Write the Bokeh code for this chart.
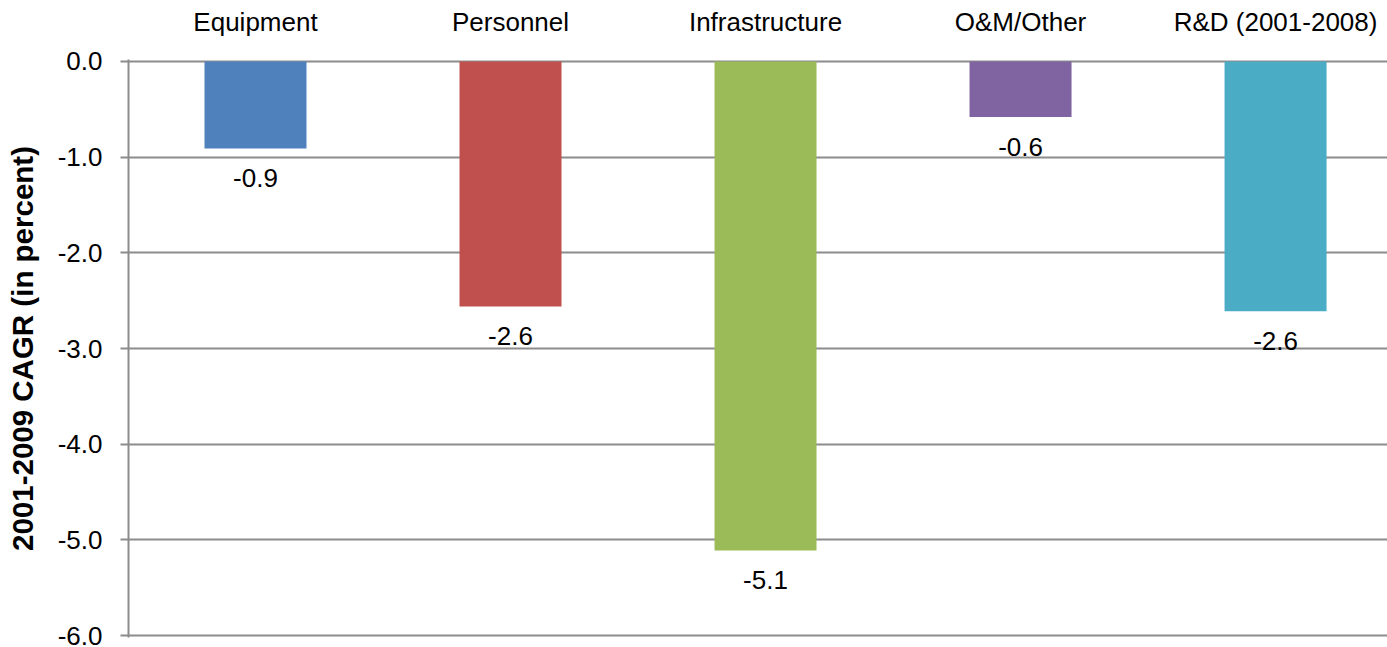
from bokeh.plotting import figure
from bokeh.models import Range1d, FixedTicker, ColumnDataSource
from bokeh.embed import file_html
from bokeh.resources import INLINE
from bokeh.core.properties import value

categories = ["Equipment", "Personnel", "Infrastructure", "O&M/Other", "R&D (2001-2008)"]
cagr = [-0.91, -2.56, -5.11, -0.58, -2.61]
colors = ["#4F81BD", "#C0504D", "#9BBB59", "#8064A2", "#4BACC6"]
y_ticks = [0, -1, -2, -3, -4, -5, -6]

xs = list(range(1, len(categories) + 1))
labels = ["%.1f" % v for v in cagr]
src = ColumnDataSource(dict(x=xs, top=[0] * len(xs), bottom=cagr, color=colors, label=labels))

FONT = "Liberation Sans"
GRID = "#8c8c8c"
FS = "26px"

p = figure(width=1387, height=647, output_backend="svg", toolbar_location=None,
           x_range=Range1d(0.502, 5.439), y_range=Range1d(-6.02, 0.02),
           x_axis_location="above", min_border_left=128, min_border_right=0,
           min_border_top=59, min_border_bottom=10)
p.outline_line_color = None
p.background_fill_color = "white"
p.border_fill_color = "white"

p.vbar(x="x", width=0.4, top="top", bottom="bottom", fill_color="color", line_color=None, source=src)
p.text(x="x", y="bottom", text="label", source=src, text_align="center", text_baseline="middle",
       y_offset=30, text_font=value(FONT), text_font_size=FS, text_color="black")

xa = p.xaxis[0]
xa.ticker = FixedTicker(ticks=xs)
xa.major_label_overrides = {x: c for x, c in zip(xs, categories)}
xa.axis_line_color = None
xa.major_tick_line_color = None
xa.major_tick_out = 0
xa.major_tick_in = 0
xa.minor_tick_line_color = None
xa.minor_tick_out = 0
xa.major_label_standoff = 23
xa.major_label_text_font = FONT
xa.major_label_text_font_size = FS
xa.major_label_text_color = "black"

ya = p.yaxis[0]
ya.ticker = FixedTicker(ticks=y_ticks)
ya.major_label_overrides = {t: "%.1f" % t for t in y_ticks}
ya.axis_line_color = GRID
ya.axis_line_width = 2
ya.major_tick_line_color = GRID
ya.major_tick_line_width = 2
ya.major_tick_out = 8
ya.major_tick_in = 0
ya.minor_tick_line_color = None
ya.major_label_standoff = 18
ya.major_label_text_font = FONT
ya.major_label_text_font_size = FS
ya.major_label_text_line_height = 0.9
ya.major_label_text_color = "black"
ya.axis_label = "2001-2009 CAGR (in percent)"
ya.axis_label_text_font = FONT
ya.axis_label_text_font_size = "29.5px"
ya.axis_label_text_font_style = "bold"
ya.axis_label_text_color = "black"
ya.axis_label_standoff = 16

p.xgrid.grid_line_color = None
p.ygrid.ticker = FixedTicker(ticks=y_ticks)
p.ygrid.grid_line_color = GRID
p.ygrid.grid_line_width = 2

open("out.html", "w").write(file_html(p, INLINE))
